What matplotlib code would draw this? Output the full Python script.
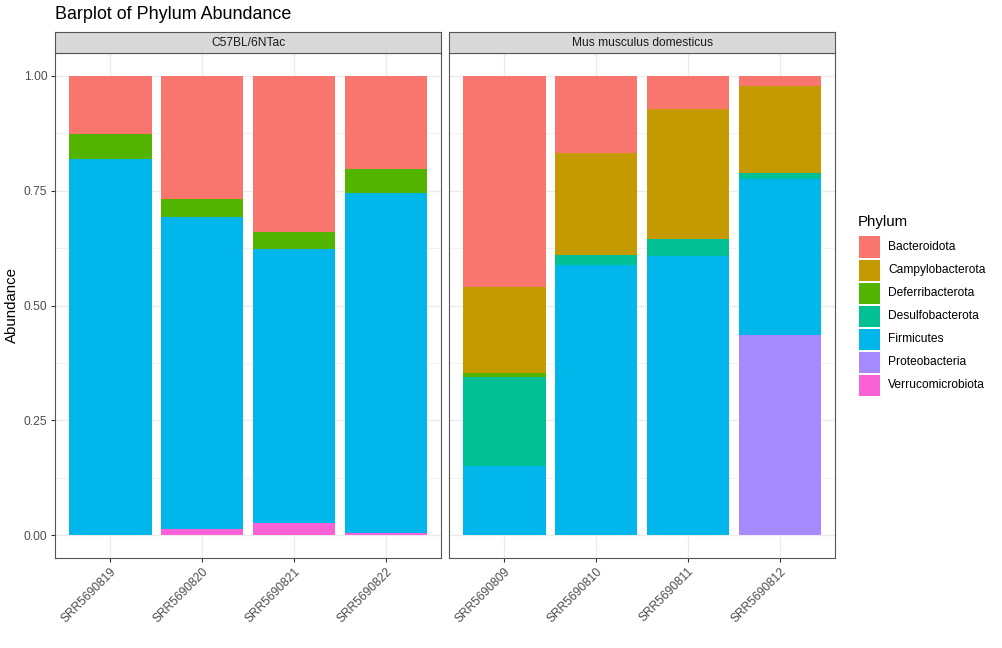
import matplotlib
matplotlib.use("Agg")
import matplotlib.pyplot as plt
from matplotlib.patches import Rectangle
import numpy as np

plt.rcParams['font.family'] = ['Liberation Sans', 'DejaVu Sans']

phyla = ["Bacteroidota", "Campylobacterota", "Deferribacterota", "Desulfobacterota",
         "Firmicutes", "Proteobacteria", "Verrucomicrobiota"]
colors = ["#F8766D", "#C49A00", "#53B400", "#00C094", "#00B6EB", "#A58AFF", "#FB61D7"]

groups = ["C57BL/6NTac", "Mus musculus domesticus"]
samples_g1 = ["SRR5690819", "SRR5690820", "SRR5690821", "SRR5690822"]
samples_g2 = ["SRR5690809", "SRR5690810", "SRR5690811", "SRR5690812"]

# abundance per phylum for each sample
g1_values = {
    "Bacteroidota":      [0.126, 0.267, 0.339, 0.202],
    "Campylobacterota":  [0.0, 0.0, 0.0, 0.0],
    "Deferribacterota":  [0.054, 0.040, 0.037, 0.052],
    "Desulfobacterota":  [0.0, 0.0, 0.0, 0.0],
    "Firmicutes":        [0.820, 0.679, 0.598, 0.742],
    "Proteobacteria":    [0.0, 0.0, 0.0, 0.0],
    "Verrucomicrobiota": [0.0, 0.014, 0.026, 0.004],
}
g2_values = {
    "Bacteroidota":      [0.459, 0.167, 0.072, 0.021],
    "Campylobacterota":  [0.187, 0.222, 0.284, 0.190],
    "Deferribacterota":  [0.010, 0.0, 0.0, 0.0],
    "Desulfobacterota":  [0.194, 0.022, 0.037, 0.013],
    "Firmicutes":        [0.150, 0.589, 0.607, 0.341],
    "Proteobacteria":    [0.0, 0.0, 0.0, 0.435],
    "Verrucomicrobiota": [0.0, 0.0, 0.0, 0.0],
}

W, H = 1002, 648
fig = plt.figure(figsize=(W / 100, H / 100), dpi=100)
fig.patch.set_facecolor("white")

def fx(px):
    return px / W

def fy(py):
    return 1 - py / H

panel_left = [55, 449]
panel_w = 386
panel_top, panel_bot = 53, 558
strip_top = 32

grey20 = "#333333"
border = "#555555"
grey30 = "#4D4D4D"
gridc = "#EBEBEB"
tick_fs = 8.65

for i, (grp, samples, vals) in enumerate([(groups[0], samples_g1, g1_values),
                                           (groups[1], samples_g2, g2_values)]):
    ax = fig.add_axes([fx(panel_left[i]), fy(panel_bot), fx(panel_w), (panel_bot - panel_top) / H])
    x = np.arange(1, len(samples) + 1)
    bottom = np.zeros(len(samples))
    for ph, col in reversed(list(zip(phyla, colors))):
        v = np.array(vals[ph])
        ax.bar(x, v, width=0.9, bottom=bottom, color=col, linewidth=0, zorder=3)
        bottom += v
    ax.set_xlim(0.4, len(samples) + 0.6)
    ax.set_ylim(-0.05, 1.05)
    ax.set_xticks(x)
    ax.set_xticklabels(samples, rotation=45, ha="right", va="top", rotation_mode="anchor",
                       fontsize=tick_fs, color=grey30)
    ax.set_yticks([0, 0.25, 0.5, 0.75, 1.0])
    ax.set_yticks([0.125, 0.375, 0.625, 0.875], minor=True)
    if i == 0:
        ax.set_yticklabels(["0.00", "0.25", "0.50", "0.75", "1.00"], fontsize=tick_fs, color=grey30)
    else:
        ax.set_yticklabels([])
    ax.tick_params(axis="both", which="major", length=3.0, width=0.8, color=grey20, pad=2.5)
    if i == 1:
        ax.tick_params(axis="y", which="major", length=0)
    ax.tick_params(axis="y", which="minor", length=0)
    ax.grid(True, which="major", color=gridc, linewidth=1.0, zorder=0)
    ax.grid(True, which="minor", axis="y", color=gridc, linewidth=0.5, zorder=0)
    ax.set_axisbelow(True)
    for s in ax.spines.values():
        s.set_color(border)
        s.set_linewidth(0.8)
    sax = fig.add_axes([fx(panel_left[i]), fy(panel_top), fx(panel_w), (panel_top - strip_top) / H])
    sax.set_facecolor("#D9D9D9")
    sax.set_xticks([])
    sax.set_yticks([])
    for s in sax.spines.values():
        s.set_color(border)
        s.set_linewidth(0.8)
    sax.text(0.5, 0.5, grp, ha="center", va="center", fontsize=tick_fs, color="#1A1A1A",
             transform=sax.transAxes)

fig.text(fx(55), fy(14.5), "Barplot of Phylum Abundance", ha="left", va="center",
         fontsize=12.9, color="black")
fig.text(fx(12), fy(305.5), "Abundance", ha="center", va="center", rotation=90,
         fontsize=10.8, color="black")

# legend drawn manually
fig.text(fx(858), fy(222), "Phylum", ha="left", va="center", fontsize=10.8, color="black")
key_x, key_y0, key_size, key_pitch = 859, 236.5, 21, 23
for k, (ph, col) in enumerate(zip(phyla, colors)):
    top = key_y0 + k * key_pitch
    fig.patches.append(Rectangle((fx(key_x), fy(top + key_size)), fx(key_size), key_size / H,
                                 transform=fig.transFigure, facecolor=col, edgecolor="none",
                                 figure=fig))
    fig.text(fx(888), fy(top + key_size / 2), ph, ha="left", va="center",
             fontsize=tick_fs, color="black")

fig.savefig("out.png", dpi=100, facecolor="white")
